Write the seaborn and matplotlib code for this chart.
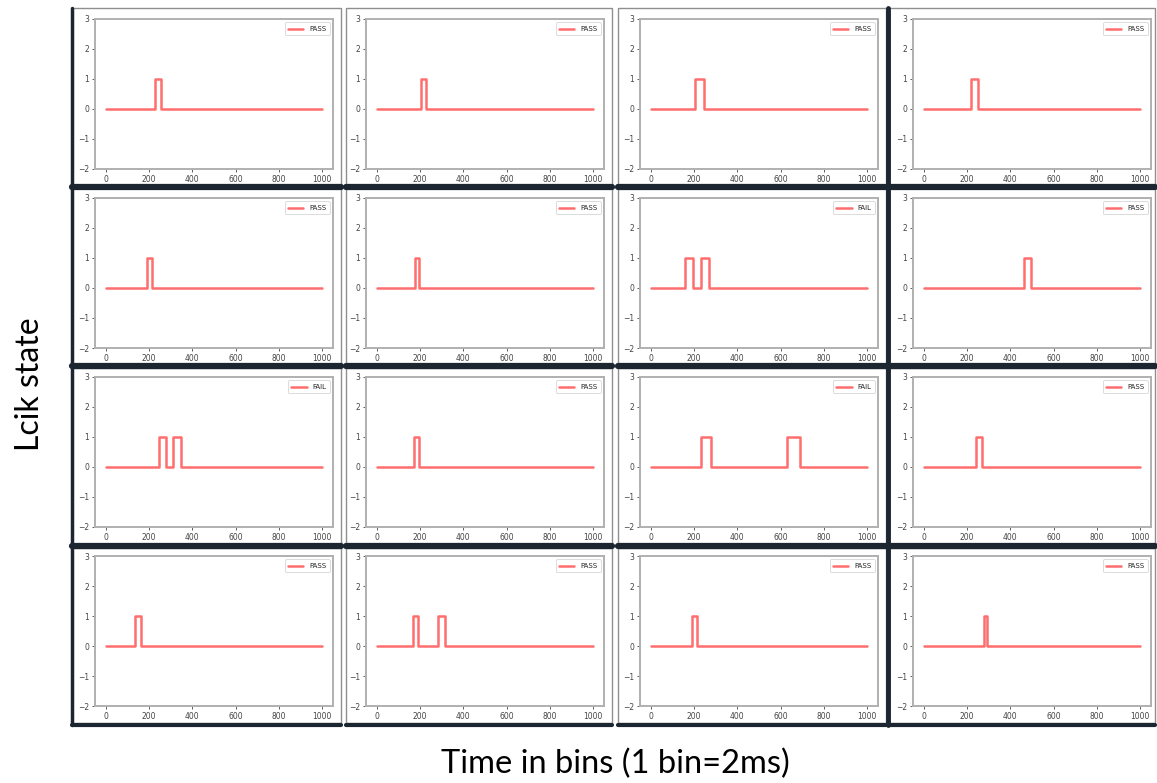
import matplotlib
matplotlib.use("Agg")
import matplotlib.pyplot as plt
from matplotlib.lines import Line2D
from matplotlib.patches import Rectangle
import seaborn as sns

# ---------------- data ----------------
rise_times = [
    [228], [205], [203], [218],
    [189], [175], [157, 231], [465],
    [246, 312], [170], [231, 631], [240],
    [135], [166, 285], [192], [278],
]
fall_times = [
    [254], [228], [246], [249],
    [215], [194], [194, 271], [494],
    [278, 348], [195], [277, 688], [268],
    [163], [192, 315], [212], [294],
]
statuses = [
    "PASS", "PASS", "PASS", "PASS",
    "PASS", "PASS", "FAIL", "PASS",
    "FAIL", "PASS", "FAIL", "PASS",
    "PASS", "PASS", "PASS", "PASS",
]
t_start, t_end = 0, 1000
x_ticks = [0, 200, 400, 600, 800, 1000]
y_ticks = [-2, -1, 0, 1, 2, 3]

# ---------------- layout ----------------
W, H = 1157, 783
sns.set_theme(style="white")
fig = plt.figure(figsize=(W / 100, H / 100), dpi=100)
fig.patch.set_facecolor("white")


def fx(px):
    return px / W


def fy(py):
    return 1 - py / H


col_left = [95, 366, 640, 913]
row_top = [19, 198, 377, 556]
ax_w, ax_h = 238, 150

cell_x = [(72, 341), (346, 612), (618, 886), (889, 1155)]
cell_y = [(8, 185), (188, 364), (368, 544), (548, 723)]

# panel frames (screenshot borders)
for (x0, x1) in cell_x:
    for (y0, y1) in cell_y:
        fig.add_artist(Rectangle((fx(x0), fy(y1)), fx(x1) - fx(x0), fy(y0) - fy(y1),
                                 transform=fig.transFigure, facecolor="white",
                                 edgecolor="#8f8f8f", lw=1.0, zorder=0))

dark = "#1b2631"
# horizontal separators
for yb, lw in [(186.5, 4.5), (366, 4.5), (546, 4.5), (724.5, 3)]:
    for (x0, x1) in cell_x:
        fig.add_artist(Line2D([fx(x0), fx(x1)], [fy(yb), fy(yb)], transform=fig.transFigure,
                              color=dark, lw=lw, zorder=1))
# vertical separators
for xv, lw, c in [(71.5, 2.5, dark), (887.5, 3.5, dark)]:
    fig.add_artist(Line2D([fx(xv), fx(xv)], [fy(8), fy(725)], transform=fig.transFigure,
                          color=c, lw=lw, zorder=1))

for i in range(16):
    r, c = divmod(i, 4)
    left = col_left[c]
    top = row_top[r]
    ax = fig.add_axes([fx(left), fy(top + ax_h), fx(ax_w), ax_h / H])
    xs = [t_start]
    ys = [0]
    for s, e in zip(rise_times[i], fall_times[i]):
        xs += [s, e]
        ys += [1, 0]
    xs.append(t_end)
    ys.append(0)
    sns.lineplot(x=xs, y=ys, ax=ax, color="#ff3030", alpha=0.7, lw=1.8,
                 drawstyle="steps-post", estimator=None, sort=False, label=statuses[i])
    ax.set_xlim(-50, 1050)
    ax.set_ylim(-2, 3)
    ax.set_xticks(x_ticks)
    ax.set_yticks(y_ticks)
    ax.tick_params(axis="both", labelsize=5.5, colors="#444444", length=2, width=0.6,
                   pad=2, left=True, bottom=True)
    for sp in ax.spines.values():
        sp.set_color("#b0b0b0")
        sp.set_linewidth(1.4)
    ax.set_xlabel("")
    ax.set_ylabel("")
    leg = ax.legend(loc="upper right", fontsize=5, frameon=True, handlelength=2.2,
                    borderpad=0.5, handletextpad=0.8)
    leg.get_frame().set_edgecolor("#cccccc")
    leg.get_frame().set_linewidth(0.6)

fig.text(fx(30), fy(384), "Lcik state", rotation=90, ha="center", va="center",
         fontsize=23, family=["Lato", "DejaVu Sans"], color="black")
fig.text(fx(615), fy(764), "Time in bins (1 bin=2ms)", ha="center", va="center",
         fontsize=23.5, family=["Lato", "DejaVu Sans"], color="black")

fig.savefig("out.png", dpi=100)
